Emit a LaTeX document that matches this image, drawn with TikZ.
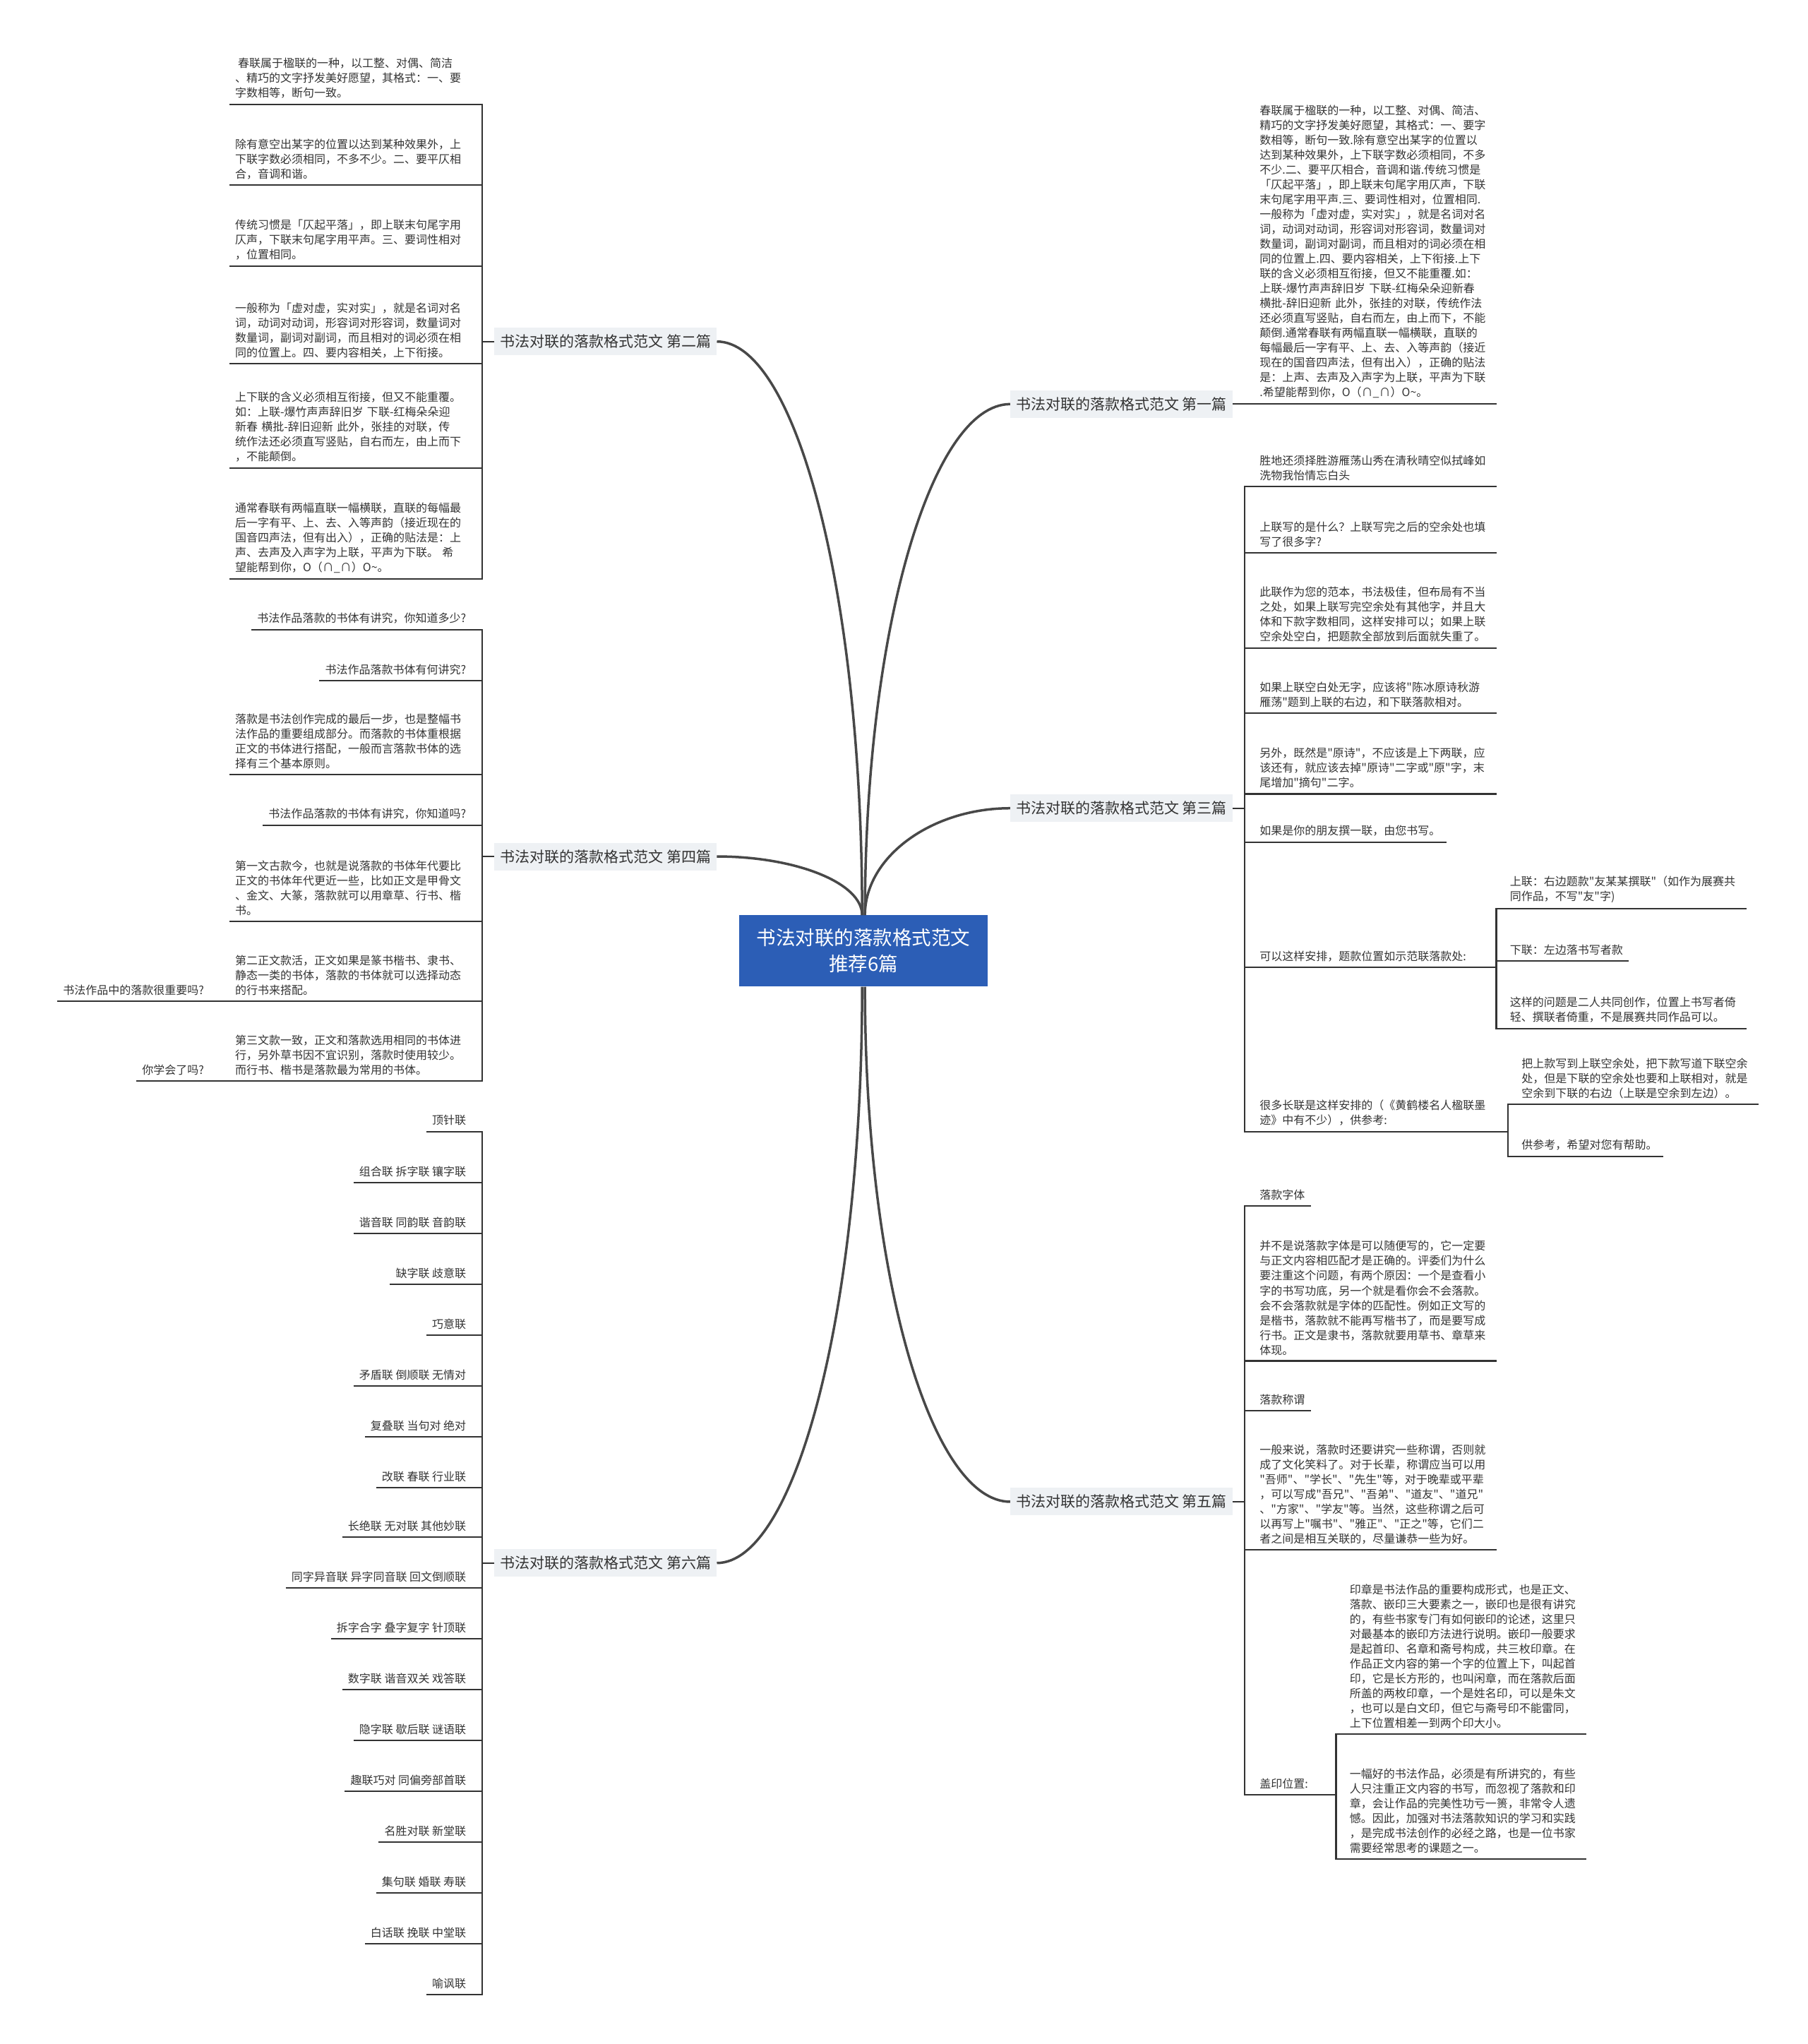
\documentclass[tikz,border=0pt]{standalone}
\usepackage{fontspec}
\newfontfamily\cjk{Noto Sans CJK SC}
\usepackage{xcolor}
\usepackage{tikz}
\definecolor{rootblue}{HTML}{2C5EB6}
\definecolor{topicbg}{HTML}{EEF1F4}
\definecolor{inkgray}{HTML}{333333}
\definecolor{curvegray}{HTML}{484848}

\begin{document}
\begin{tikzpicture}[x=1.8457pt,y=-1.8457pt,
    root/.style={fill=rootblue,text=white,align=center,minimum width=352pt,
      minimum height=101pt,inner sep=0pt,font=\cjk\fontsize{27.5}{37}\selectfont},
    topic/.style={fill=topicbg,text=inkgray,minimum height=39pt,inner xsep=8pt,
      font=\cjk\fontsize{21}{25}\selectfont},
    leaf/.style={inner xsep=8pt,inner ysep=8pt,text=inkgray,
      font=\cjk\fontsize{16}{21}\selectfont,
      append after command={(\tikzlastnode.south west) edge[link] (\tikzlastnode.south east)}},
    note/.style={leaf,text width=327pt,align=left},
    link/.style={draw=inkgray,line width=2.2pt},
    flow/.style={draw=curvegray,line width=3.5pt}
  ]
    \useasboundingbox (0,0) rectangle (1387,1568);

    % centre and the six topics
    \node[root] (ctr) at (662.5,729.5) {书法对联的落款格式范文\\推荐6篇};
    \node[topic,anchor=east] (b2) at (550,262) {书法对联的落款格式范文 第二篇};
    \node[topic,anchor=east] (b4) at (550,657) {书法对联的落款格式范文 第四篇};
    \node[topic,anchor=east] (b6) at (550,1199) {书法对联的落款格式范文 第六篇};
    \node[topic,anchor=west] (b1) at (775,310) {书法对联的落款格式范文 第一篇};
    \node[topic,anchor=west] (b3) at (775,620) {书法对联的落款格式范文 第三篇};
    \node[topic,anchor=west] (b5) at (775,1152) {书法对联的落款格式范文 第五篇};

    \draw[flow] ([xshift=-2pt]ctr.north) .. controls +(0,-250) and +(60,0) .. (b2.east);
    \draw[flow] ([xshift=-2pt]ctr.north) .. controls +(0,-25) and +(60,0) .. (b4.east);
    \draw[flow] ([xshift=-2pt]ctr.south) .. controls +(0,250) and +(60,0) .. (b6.east);
    \draw[flow] ([xshift=2pt]ctr.north) .. controls +(0,-220) and +(-60,0) .. (b1.west);
    \draw[flow] ([xshift=2pt]ctr.north) .. controls +(0,-45) and +(-60,0) .. (b3.west);
    \draw[flow] ([xshift=2pt]ctr.south) .. controls +(0,225) and +(-60,0) .. (b5.west);

    % 第二篇
    \node[note,anchor=south east] (l21) at (362,80) {\hspace*{4pt}春联属于楹联的一种，以工整、对偶、简洁\\、精巧的文字抒发美好愿望，其格式：一、要\\字数相等，断句一致。};
    \node[note,anchor=south east] (l22) at (362,142) {除有意空出某字的位置以达到某种效果外，上\\下联字数必须相同，不多不少。二、要平仄相\\合，音调和谐。};
    \node[note,anchor=south east] (l23) at (362,204) {传统习惯是「仄起平落」，即上联末句尾字用\\仄声，下联末句尾字用平声。三、要词性相对\\，位置相同。};
    \node[note,anchor=south east] (l24) at (362,279) {一般称为「虚对虚，实对实」，就是名词对名\\词，动词对动词，形容词对形容词，数量词对\\数量词，副词对副词，而且相对的词必须在相\\同的位置上。四、要内容相关，上下衔接。};
    \node[note,anchor=south east] (l25) at (362,359) {上下联的含义必须相互衔接，但又不能重覆。\\如：上联-爆竹声声辞旧岁 下联-红梅朵朵迎\\新春 横批-辞旧迎新 此外，张挂的对联，传\\统作法还必须直写竖贴，自右而左，由上而下\\，不能颠倒。};
    \node[note,anchor=south east] (l26) at (362,444) {通常春联有两幅直联一幅横联，直联的每幅最\\后一字有平、上、去、入等声韵（接近现在的\\国音四声法，但有出入），正确的贴法是：上\\声、去声及入声字为上联，平声为下联。 希\\望能帮到你，O（∩\_∩）O\textasciitilde。};
    \coordinate (k2) at (370,262);
    \draw[link] (b2.west) -- (k2);
    \draw[link] (k2) |- (l21.south east);
    \draw[link] (k2) |- (l22.south east);
    \draw[link] (k2) |- (l23.south east);
    \draw[link] (k2) |- (l24.south east);
    \draw[link] (k2) |- (l25.south east);
    \draw[link] (k2) |- (l26.south east);

    % 第四篇
    \node[leaf,anchor=south east] (l41) at (362,483) {书法作品落款的书体有讲究，你知道多少?};
    \node[leaf,anchor=south east] (l42) at (362,522) {书法作品落款书体有何讲究?};
    \node[note,anchor=south east] (l43) at (362,594) {落款是书法创作完成的最后一步，也是整幅书\\法作品的重要组成部分。而落款的书体重根据\\正文的书体进行搭配，一般而言落款书体的选\\择有三个基本原则。};
    \node[leaf,anchor=south east] (l44) at (362,633) {书法作品落款的书体有讲究，你知道吗?};
    \node[note,anchor=south east] (l45) at (362,707) {第一文古款今，也就是说落款的书体年代要比\\正文的书体年代更近一些，比如正文是甲骨文\\、金文、大篆，落款就可以用章草、行书、楷\\书。};
    \node[note,anchor=south east] (l46) at (362,768) {第二正文款活，正文如果是篆书楷书、隶书、\\静态一类的书体，落款的书体就可以选择动态\\的行书来搭配。};
    \node[note,anchor=south east] (l47) at (362,829) {第三文款一致，正文和落款选用相同的书体进\\行，另外草书因不宜识别，落款时使用较少。\\而行书、楷书是落款最为常用的书体。};
    \node[leaf,anchor=south east] (l461) at (161,768) {书法作品中的落款很重要吗?};
    \node[leaf,anchor=south east] (l471) at (161,829) {你学会了吗?};
    \coordinate (k4) at (370,657);
    \draw[link] (b4.west) -- (k4);
    \draw[link] (k4) |- (l41.south east);
    \draw[link] (k4) |- (l42.south east);
    \draw[link] (k4) |- (l43.south east);
    \draw[link] (k4) |- (l44.south east);
    \draw[link] (k4) |- (l45.south east);
    \draw[link] (k4) |- (l46.south east);
    \draw[link] (k4) |- (l47.south east);
    \draw[link] (l461.south east) -- (l46.south west);
    \draw[link] (l471.south east) -- (l47.south west);

    % 第六篇
    \node[leaf,anchor=south east] (l61) at (362,868) {顶针联};
    \node[leaf,anchor=south east] (l62) at (362,907) {组合联 拆字联 镶字联};
    \node[leaf,anchor=south east] (l63) at (362,946) {谐音联 同韵联 音韵联};
    \node[leaf,anchor=south east] (l64) at (362,985) {缺字联 歧意联};
    \node[leaf,anchor=south east] (l65) at (362,1024) {巧意联};
    \node[leaf,anchor=south east] (l66) at (362,1063) {矛盾联 倒顺联 无情对};
    \node[leaf,anchor=south east] (l67) at (362,1102) {复叠联 当句对 绝对};
    \node[leaf,anchor=south east] (l68) at (362,1141) {改联 春联 行业联};
    \node[leaf,anchor=south east] (l69) at (362,1179) {长绝联 无对联 其他妙联};
    \node[leaf,anchor=south east] (l70) at (362,1218) {同字异音联 异字同音联 回文倒顺联};
    \node[leaf,anchor=south east] (l71) at (362,1257) {拆字合字 叠字复字 针顶联};
    \node[leaf,anchor=south east] (l72) at (362,1296) {数字联 谐音双关 戏答联};
    \node[leaf,anchor=south east] (l73) at (362,1335) {隐字联 歇后联 谜语联};
    \node[leaf,anchor=south east] (l74) at (362,1374) {趣联巧对 同偏旁部首联};
    \node[leaf,anchor=south east] (l75) at (362,1413) {名胜对联 新堂联};
    \node[leaf,anchor=south east] (l76) at (362,1452) {集句联 婚联 寿联};
    \node[leaf,anchor=south east] (l77) at (362,1491) {白话联 挽联 中堂联};
    \node[leaf,anchor=south east] (l78) at (362,1530) {喻讽联};
    \coordinate (k6) at (370,1199);
    \draw[link] (b6.west) -- (k6);
    \draw[link] (k6) |- (l61.south east);
    \draw[link] (k6) |- (l62.south east);
    \draw[link] (k6) |- (l63.south east);
    \draw[link] (k6) |- (l64.south east);
    \draw[link] (k6) |- (l65.south east);
    \draw[link] (k6) |- (l66.south east);
    \draw[link] (k6) |- (l67.south east);
    \draw[link] (k6) |- (l68.south east);
    \draw[link] (k6) |- (l69.south east);
    \draw[link] (k6) |- (l70.south east);
    \draw[link] (k6) |- (l71.south east);
    \draw[link] (k6) |- (l72.south east);
    \draw[link] (k6) |- (l73.south east);
    \draw[link] (k6) |- (l74.south east);
    \draw[link] (k6) |- (l75.south east);
    \draw[link] (k6) |- (l76.south east);
    \draw[link] (k6) |- (l77.south east);
    \draw[link] (k6) |- (l78.south east);

    % 第一篇
    \node[note,anchor=south west] (r11) at (962,310) {春联属于楹联的一种，以工整、对偶、简洁、\\精巧的文字抒发美好愿望，其格式：一、要字\\数相等，断句一致.除有意空出某字的位置以\\达到某种效果外，上下联字数必须相同，不多\\不少.二、要平仄相合，音调和谐.传统习惯是\\「仄起平落」，即上联末句尾字用仄声，下联\\末句尾字用平声.三、要词性相对，位置相同.\\一般称为「虚对虚，实对实」，就是名词对名\\词，动词对动词，形容词对形容词，数量词对\\数量词，副词对副词，而且相对的词必须在相\\同的位置上.四、要内容相关，上下衔接.上下\\联的含义必须相互衔接，但又不能重覆.如：\\上联-爆竹声声辞旧岁 下联-红梅朵朵迎新春\\横批-辞旧迎新 此外，张挂的对联，传统作法\\还必须直写竖贴，自右而左，由上而下，不能\\颠倒.通常春联有两幅直联一幅横联，直联的\\每幅最后一字有平、上、去、入等声韵（接近\\现在的国音四声法，但有出入），正确的贴法\\是：上声、去声及入声字为上联，平声为下联\\.希望能帮到你，O（∩\_∩）O\textasciitilde。};
    \draw[link] (b1.east) -- ++(10,0) |- (r11.south west);

    % 第三篇
    \node[note,anchor=south west] (r31) at (962,373) {胜地还须择胜游雁荡山秀在清秋晴空似拭峰如\\洗物我怡情忘白头};
    \node[note,anchor=south west] (r32) at (962,424) {上联写的是什么？上联写完之后的空余处也填\\写了很多字?};
    \node[note,anchor=south west] (r33) at (962,497) {此联作为您的范本，书法极佳，但布局有不当\\之处，如果上联写完空余处有其他字，并且大\\体和下款字数相同，这样安排可以；如果上联\\空余处空白，把题款全部放到后面就失重了。};
    \node[note,anchor=south west] (r34) at (962,547) {如果上联空白处无字，应该将"陈冰原诗秋游\\雁荡"题到上联的右边，和下联落款相对。};
    \node[note,anchor=south west] (r35) at (962,609) {另外，既然是"原诗"，不应该是上下两联，应\\该还有，就应该去掉"原诗"二字或"原"字，末\\尾增加"摘句"二字。};
    \node[leaf,anchor=south west] (r36) at (962,646) {如果是你的朋友撰一联，由您书写。};
    \node[leaf,anchor=south west] (r37) at (962,742) {可以这样安排，题款位置如示范联落款处:};
    \node[note,anchor=south west] (r38) at (962,868) {很多长联是这样安排的（《黄鹤楼名人楹联墨\\迹》中有不少），供参考:};
    \node[note,anchor=south west] (r371) at (1154,697) {上联：右边题款"友某某撰联"（如作为展赛共\\同作品，不写"友"字)};
    \node[leaf,anchor=south west] (r372) at (1154,737) {下联：左边落书写者款};
    \node[note,anchor=south west] (r373) at (1154,789) {这样的问题是二人共同创作，位置上书写者倚\\轻、撰联者倚重，不是展赛共同作品可以。};
    \node[note,anchor=south west] (r381) at (1163,847) {把上款写到上联空余处，把下款写道下联空余\\处，但是下联的空余处也要和上联相对，就是\\空余到下联的右边（上联是空余到左边）。};
    \node[leaf,anchor=south west] (r382) at (1163,887) {供参考，希望对您有帮助。};
    \coordinate (k3) at (955,620);
    \draw[link] (b3.east) -- (k3);
    \draw[link] (k3) |- (r31.south west);
    \draw[link] (k3) |- (r32.south west);
    \draw[link] (k3) |- (r33.south west);
    \draw[link] (k3) |- (r34.south west);
    \draw[link] (k3) |- (r35.south west);
    \draw[link] (k3) |- (r36.south west);
    \draw[link] (k3) |- (r37.south west);
    \draw[link] (k3) |- (r38.south west);
    \coordinate (k37) at (1148,742);
    \draw[link] (r37.south east) -- (k37);
    \draw[link] (k37) |- (r371.south west);
    \draw[link] (k37) |- (r372.south west);
    \draw[link] (k37) |- (r373.south west);
    \coordinate (k38) at (1157,868);
    \draw[link] (r38.south east) -- (k38);
    \draw[link] (k38) |- (r381.south west);
    \draw[link] (k38) |- (r382.south west);

    % 第五篇
    \node[leaf,anchor=south west] (r51) at (962,925) {落款字体};
    \node[note,anchor=south west] (r52) at (962,1044) {并不是说落款字体是可以随便写的，它一定要\\与正文内容相匹配才是正确的。评委们为什么\\要注重这个问题，有两个原因：一个是查看小\\字的书写功底，另一个就是看你会不会落款。\\会不会落款就是字体的匹配性。例如正文写的\\是楷书，落款就不能再写楷书了，而是要写成\\行书。正文是隶书，落款就要用草书、章草来\\体现。};
    \node[leaf,anchor=south west] (r53) at (962,1082) {落款称谓};
    \node[note,anchor=south west] (r54) at (962,1189) {一般来说，落款时还要讲究一些称谓，否则就\\成了文化笑料了。对于长辈，称谓应当可以用\\"吾师"、"学长"、"先生"等，对于晚辈或平辈\\，可以写成"吾兄"、"吾弟"、"道友"、"道兄"\\、"方家"、"学友"等。当然，这些称谓之后可\\以再写上"嘱书"、"雅正"、"正之"等，它们二\\者之间是相互关联的，尽量谦恭一些为好。};
    \node[leaf,anchor=south west] (r55) at (962,1377) {盖印位置:};
    \node[note,anchor=south west] (r551) at (1031,1330) {印章是书法作品的重要构成形式，也是正文、\\落款、嵌印三大要素之一，嵌印也是很有讲究\\的，有些书家专门有如何嵌印的论述，这里只\\对最基本的嵌印方法进行说明。嵌印一般要求\\是起首印、名章和斋号构成，共三枚印章。在\\作品正文内容的第一个字的位置上下，叫起首\\印，它是长方形的，也叫闲章，而在落款后面\\所盖的两枚印章，一个是姓名印，可以是朱文\\，也可以是白文印，但它与斋号印不能雷同，\\上下位置相差一到两个印大小。};
    \node[note,anchor=south west] (r552) at (1031,1426) {一幅好的书法作品，必须是有所讲究的，有些\\人只注重正文内容的书写，而忽视了落款和印\\章，会让作品的完美性功亏一篑，非常令人遗\\憾。因此，加强对书法落款知识的学习和实践\\，是完成书法创作的必经之路，也是一位书家\\需要经常思考的课题之一。};
    \coordinate (k5) at (955,1152);
    \draw[link] (b5.east) -- (k5);
    \draw[link] (k5) |- (r51.south west);
    \draw[link] (k5) |- (r52.south west);
    \draw[link] (k5) |- (r53.south west);
    \draw[link] (k5) |- (r54.south west);
    \draw[link] (k5) |- (r55.south west);
    \coordinate (k55) at (1025,1377);
    \draw[link] (r55.south east) -- (k55);
    \draw[link] (k55) |- (r551.south west);
    \draw[link] (k55) |- (r552.south west);
  \end{tikzpicture}
\end{document}
